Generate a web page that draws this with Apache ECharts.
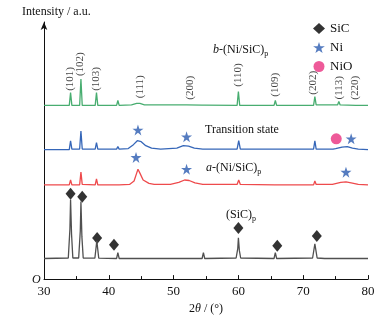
<!DOCTYPE html>
<html>
	<head>
		<meta charset="utf-8">
		<title>XRD</title>
	</head>
	<body style="margin:0">
		<div id="container" style="width: 384px;height:320px;"></div>
	</body>
	<script src="https://cdn.jsdelivr.net/npm/echarts@6/dist/echarts.min.js"></script>
	<script type="text/javascript">
		'use strict'
		// 各曲线数据 [2θ, 相对强度]
		var sicData = [[30,0],[33.75,0.5],[34.0,30],[34.1,60],[34.25,25],[34.45,0.5],[35.35,0.5],[35.6,28],[35.7,58],[35.85,22],[36.05,0.5],[37.85,0.3],[38.15,18],[38.45,0.3],[41.2,0],[41.4,6],[41.6,0],[45.1,0],[45.3,2],[45.5,0],[54.4,0],[54.6,6],[54.8,0],[59.65,0.5],[59.9,10],[60.0,21],[60.15,8],[60.35,0.5],[65.5,0],[65.7,6],[65.9,0],[71.45,0.5],[71.8,15],[72.15,0.5],[73.3,0],[73.5,2],[73.7,0],[75.3,0],[75.5,2],[75.7,0],[78.2,0],[78.4,1],[78.6,0],[80,0]];
		var aData = [[30,0],[33.9,0],[34.1,5],[34.3,0],[35.5,0],[35.7,13],[35.9,0.5],[37.9,0],[38.1,6],[38.3,0],[41.2,0],[41.4,2],[41.6,0],[43.2,0.5],[43.9,4],[44.3,12],[44.5,16],[44.8,12],[45.3,5],[46.2,1.5],[47,0.5],[49.5,0.5],[50.8,2.5],[51.7,5],[52.4,4.5],[53.3,2],[54.5,0.5],[59.8,0.5],[60.05,5],[60.3,0.5],[65.6,0],[65.8,1],[66,0],[71.6,0],[71.8,4],[72.0,0.5],[74.5,0.5],[75.8,2.5],[76.6,3],[77.4,2],[78.5,0.5],[80,0]];
		var transData = [[30,0],[33.9,0],[34.1,9],[34.3,0.5],[35.5,0.5],[35.7,19],[35.9,0.5],[37.9,0.5],[38.1,7],[38.3,0.5],[41.2,0.5],[41.4,3],[41.6,0.5],[43,1],[43.8,5],[44.4,9],[45,8],[45.7,4],[46.6,1.5],[48,0.5],[50.5,1.5],[51.5,4],[52.3,3.5],[53.2,1.5],[54.5,0.5],[59.8,0.5],[60.05,9],[60.3,0.5],[65.5,0.5],[65.7,2],[65.9,0.5],[71.6,0.5],[71.8,9],[72,0.5],[74.6,0.5],[74.8,2],[75,1],[76,2.5],[76.8,3],[77.6,1.5],[78.5,0.5],[80,0]];
		var bData = [[30,0],[33.9,0],[34.1,13],[34.3,0],[35.5,0],[35.7,27],[35.9,0],[37.9,0],[38.1,13],[38.3,0],[41.2,0],[41.4,5],[41.6,0],[43.5,0.5],[44.3,2],[44.8,2],[45.5,0.5],[52,0.5],[54.4,0.3],[54.6,1.5],[54.8,0.3],[59.8,0],[60.0,14],[60.2,0],[65.5,0],[65.7,5],[65.9,0],[71.6,0],[71.8,9],[72,0.5],[73.3,0.5],[73.5,2],[73.7,0.5],[75.3,0.5],[75.5,4],[75.7,0.5],[78.1,0],[78.3,1],[78.5,0],[80,0]];
		// 各曲线的竖直偏移
		var offsets = {sic: 21, a: 96, trans: 132, b: 177};
		// 晶面标注
		var hklLabels = ['(101)','(102)','(103)','(111)','(200)','(110)','(109)','(202)','(113)','(220)'];
		var hklPos = [[34.1,204],[35.6,219],[38.0,204],[44.8,196],[52.5,195],[59.9,208],[65.6,198],[71.5,200],[75.5,195],[78.0,195]];
		// 物相标记
		var sicMarks = [[34.1,87],[35.9,84],[38.2,42],[40.8,35],[60,52],[66,34],[72.1,44]];
		var niMarks = [[44.5,152],[52,145],[44.2,124],[52,112],[76.6,109],[77.4,143]];
		var nioMarks = [[75.1,143]];
		var xTicks = [30,40,50,60,70,80];

		var font = 'Liberation Serif';
		var star = 'path://M50,0 L61.8,35.1 L98.9,35.1 L68.8,56.9 L80.3,91.9 L50,70.1 L19.7,91.9 L31.2,56.9 L1.1,35.1 L38.2,35.1 Z';
		var richSub = {
			i: {fontStyle: 'italic', fontFamily: font, fontSize: 12},
			s: {fontSize: 8, fontFamily: font, verticalAlign: 'bottom', padding: [7, 0, 0, 0]}
		};

		function shift(arr, off) {
			return arr.map(function (p) { return [p[0], p[1] + off]; });
		}
		function lineSeries(name, arr, off, color) {
			return {
				name: name, type: 'line', data: shift(arr, off), symbol: 'none',
				lineStyle: {color: color, width: 1.3}, silent: true
			};
		}

		var myCharts = echarts.init(document.getElementById('container'));
		var option = {
			animation: false,
			textStyle: {fontFamily: font},
			grid: {left: 44, right: 16, top: 22, bottom: 36},
			legend: {
				orient: 'vertical', left: 308, top: 17, itemGap: 6,
				itemWidth: 12, itemHeight: 11,
				data: ['SiC', 'Ni', 'NiO'],
				textStyle: {fontFamily: font, fontSize: 13, color: '#111'}
			},
			xAxis: {
				type: 'value', min: xTicks[0], max: xTicks[xTicks.length - 1], interval: 10,
				name: '2{i|θ} / (°)', nameLocation: 'middle', nameGap: 23,
				nameTextStyle: {fontFamily: font, fontSize: 12, color: '#111', rich: {i: {fontStyle: 'italic', fontFamily: font, fontSize: 12}}},
				axisLine: {lineStyle: {color: '#111', width: 1}},
				axisTick: {inside: true, length: 4, lineStyle: {color: '#111'}},
				minorTick: {show: true, splitNumber: 2, length: 3, lineStyle: {color: '#111'}},
				axisLabel: {fontFamily: font, fontSize: 13, color: '#111', margin: 6},
				splitLine: {show: false}
			},
			yAxis: {
				type: 'value', min: 0, max: 262,
				axisLine: {show: true, symbol: ['none', 'arrow'], symbolSize: [5, 8], symbolOffset: [0, 0], lineStyle: {color: '#111', width: 1}},
				axisTick: {show: false}, axisLabel: {show: false}, splitLine: {show: false}
			},
			graphic: [
				{type: 'text', left: 22, top: 6, style: {text: 'Intensity / a.u.', font: '12px ' + font, fill: '#111'}},
				{type: 'text', left: 32, top: 274, style: {text: 'O', font: 'italic 12px ' + font, fill: '#111'}},
				{type: 'text', left: 213, top: 44, style: {text: '{i|b}-(Ni/SiC){s|p}', font: '12px ' + font, fill: '#111', rich: richSub}},
				{type: 'text', left: 205, top: 124, style: {text: 'Transition state', font: '12px ' + font, fill: '#111'}},
				{type: 'text', left: 206, top: 162, style: {text: '{i|a}-(Ni/SiC){s|p}', font: '12px ' + font, fill: '#111', rich: richSub}},
				{type: 'text', left: 226, top: 209, style: {text: '(SiC){s|p}', font: '12px ' + font, fill: '#111', rich: richSub}}
			],
			series: [
				lineSeries('sicLine', sicData, offsets.sic, '#505050'),
				lineSeries('aLine', aData, offsets.a, '#ee4a4c'),
				lineSeries('transLine', transData, offsets.trans, '#3566b8'),
				lineSeries('bLine', bData, offsets.b, '#48ad70'),
				{
					name: 'hkl', type: 'scatter', symbolSize: 0, silent: true,
					data: hklPos.map(function (p, i) { return {name: hklLabels[i], value: p}; }),
					label: {show: true, position: 'inside', rotate: 90, formatter: '{b}', fontFamily: font, fontSize: 11, color: '#111'}
				},
				{name: 'SiC', type: 'scatter', symbol: 'diamond', symbolSize: [10, 12], itemStyle: {color: '#000'}, data: sicMarks},
				{name: 'Ni', type: 'scatter', symbol: star, symbolSize: 11, itemStyle: {color: '#2a5bb0'}, data: niMarks},
				{name: 'NiO', type: 'scatter', symbol: 'circle', symbolSize: 11, itemStyle: {color: '#ea3180'}, data: nioMarks}
			]
		};
		myCharts.setOption(option);
	</script>
</html>
